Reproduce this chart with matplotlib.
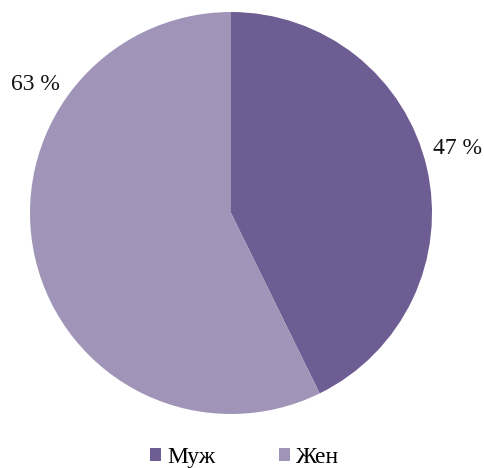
import matplotlib.pyplot as plt
from matplotlib.patches import Patch

labels = ["Муж", "Жен"]
values = [47, 63]
colors = ["#6E5D92", "#A095B8"]

plt.rcParams['font.family'] = ['Liberation Serif', 'DejaVu Serif']

fig = plt.figure(figsize=(4.85, 4.68), dpi=100)
ax = fig.add_axes([30 / 485, 54 / 468, 402 / 485, 402 / 468])

wedges, _ = ax.pie(values, colors=colors, startangle=90, counterclock=False,
                   radius=1, wedgeprops=dict(linewidth=0))
ax.set_xlim(-1, 1)
ax.set_ylim(-1, 1)
ax.set_aspect('equal')
ax.axis('off')

# value labels sit outside the pie
label_pos = [(1.125, 0.323), (-0.975, 0.637)]
for v, (x, y) in zip(values, label_pos):
    ax.text(x, y, f"{v} %", fontsize=17, ha='center', va='center',
            color='#111111', clip_on=False)

handles = [Patch(facecolor=c, edgecolor='none') for c in colors]
fig.legend(handles, labels, loc='center', bbox_to_anchor=(0.504, 0.023),
           ncol=2, frameon=False, fontsize=17, handlelength=0.47,
           handleheight=0.45, handletextpad=0.25, columnspacing=2.7,
           borderpad=0.1)

fig.savefig("out.png", dpi=100)
